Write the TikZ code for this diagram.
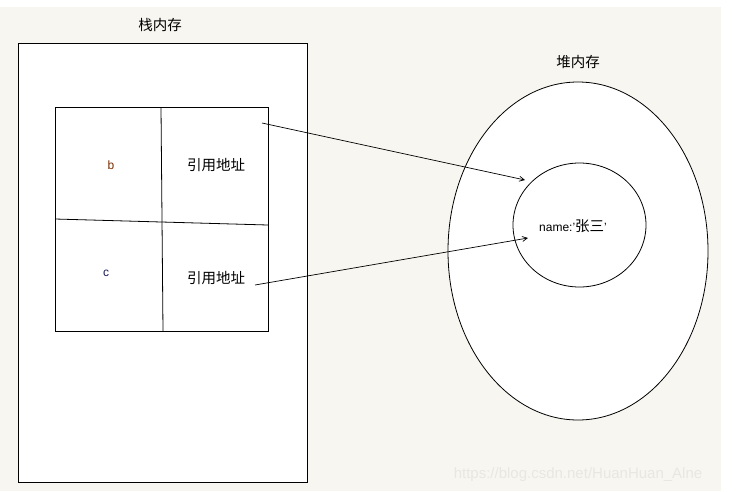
\documentclass[tikz,border=0pt]{standalone}
\usepackage{fontspec}
\setmainfont{Liberation Sans}
\newfontfamily\cjk{Noto Sans CJK SC}
\usetikzlibrary{arrows.meta,shapes.geometric}
\definecolor{cream}{HTML}{F8F6F0}
\definecolor{wmark}{HTML}{E9E7E1}
\definecolor{bcol}{HTML}{7A2E00}
\definecolor{ccol}{HTML}{1A1A5A}
\tikzset{
  line/.style={draw=black, line width=0.8pt},
  lbl/.style={font=\cjk\fontsize{14.5}{15}\selectfont, inner sep=0pt},
  var/.style={font=\fontsize{12}{14}\selectfont, inner sep=0pt},
  ptr/.style={draw=black, line width=0.7pt, -{Straight Barb[length=5pt,width=5pt]}},
}
\begin{document}
\begin{tikzpicture}[x=1pt,y=-1pt]
\useasboundingbox (0,0) rectangle (737,491);
\fill[white] (0,0) rectangle (737,491);
\fill[cream] (0,7) rectangle (721,491);
% stack
\node[lbl] (stacklabel) at (160,25) {栈内存};
\node[line, fill=white, minimum width=289pt, minimum height=439pt, inner sep=0pt] (stack) at (162.5,262.5) {};
\node[line, fill=white, minimum width=213pt, minimum height=224pt, inner sep=0pt] (table) at (161.5,219) {};
\coordinate (vt) at (161,107);
\coordinate (vb) at (163,331);
\coordinate (hl) at (55,219);
\coordinate (hr) at (268,225);
\draw[line] (vt) -- (vb);
\draw[line] (hl) -- (hr);
\node[var, text=bcol] (b) at (111,165) {b};
\node[var, text=ccol] (c) at (106,273) {c};
\node[lbl] (ref1) at (216,165) {引用地址};
\node[lbl] (ref2) at (216,278) {引用地址};
% heap
\node[lbl] (heaplabel) at (578,62) {堆内存};
\node[line, fill=white, ellipse, minimum width=260pt, minimum height=338pt, inner sep=0pt] (heap) at (578,251) {};
\node[line, ellipse, minimum width=133pt, minimum height=124pt, inner sep=0pt] (obj) at (579.5,225) {};
\node[inner sep=0pt] (name) at (573,226) {\fontsize{12}{14}\selectfont name:'\cjk\fontsize{14.5}{15}\selectfont 张三\rmfamily\fontsize{12}{14}\selectfont'};
% pointers
\coordinate (p1s) at (262,123);
\coordinate (p1e) at (525,180);
\coordinate (p2s) at (255,285);
\coordinate (p2e) at (528,238);
\draw[ptr] (p1s) -- (p1e);
\draw[ptr] (p2s) -- (p2e);
% watermark
\node[text=wmark, font=\fontsize{15}{16}\selectfont, inner sep=0pt] (wm) at (578,475) {https://blog.csdn.net/HuanHuan\_Alne};
\end{tikzpicture}
\end{document}
